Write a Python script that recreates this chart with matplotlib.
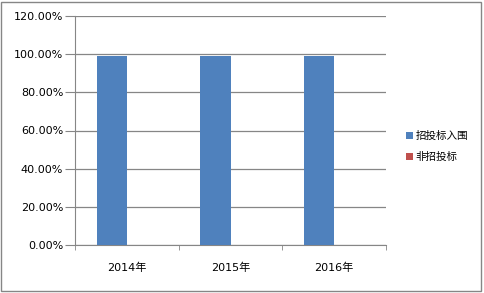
import matplotlib.pyplot as plt
import numpy as np
from matplotlib.patches import Rectangle
from matplotlib.ticker import PercentFormatter

plt.rcParams['font.family'] = ['DejaVu Sans', 'Noto Sans CJK SC']

years = ["2014年", "2015年", "2016年"]
bid_in = [99.0, 99.0, 99.0]      # 招投标入围
non_bid = [0.0, 0.0, 0.0]        # 非招投标
y_ticks = [0, 20, 40, 60, 80, 100, 120]

fig = plt.figure(figsize=(4.85, 2.93), dpi=100)
ax = fig.add_axes([75 / 485, 1 - 245 / 293, 311 / 485, 229 / 293])

x = np.arange(len(years))
w = 0.29
ax.bar(x - w / 2, bid_in, w, color='#4f81bd', label='招投标入围', zorder=3)
ax.bar(x + w / 2, non_bid, w, color='#c0504d', label='非招投标', zorder=3)

ax.set_xlim(-0.5, len(years) - 0.5)
ax.set_ylim(0, 120)
ax.set_yticks(y_ticks)
ax.yaxis.set_major_formatter(PercentFormatter(decimals=2))
ax.set_xticks(x, labels=years)
ax.set_xticks(np.arange(len(years) + 1) - 0.5, minor=True)
ax.tick_params(axis='x', which='major', length=0, pad=13, labelsize=8)
ax.tick_params(axis='x', which='minor', length=3.5, color='#868686')
ax.tick_params(axis='y', length=7, color='#868686', labelsize=8, pad=1.5)

ax.grid(axis='y', color='#868686', linewidth=0.9, zorder=0)
for side in ['top', 'right']:
    ax.spines[side].set_visible(False)
for side in ['left', 'bottom']:
    ax.spines[side].set_color('#868686')

leg = ax.legend(loc='center left', bbox_to_anchor=(0.818, 0.50), bbox_transform=fig.transFigure,
                frameon=False, fontsize=7.6, handlelength=0.6, handleheight=0.6,
                handletextpad=0.3, labelspacing=1.0)
for t in leg.get_texts():
    t.set_family(['Noto Sans CJK SC', 'DejaVu Sans'])

fig.patches.append(Rectangle((1.5 / 485, 2.5 / 293), 480 / 485, 289 / 293,
                             transform=fig.transFigure, fill=False,
                             edgecolor='#868686', linewidth=1))

plt.savefig("out.png", dpi=100)
